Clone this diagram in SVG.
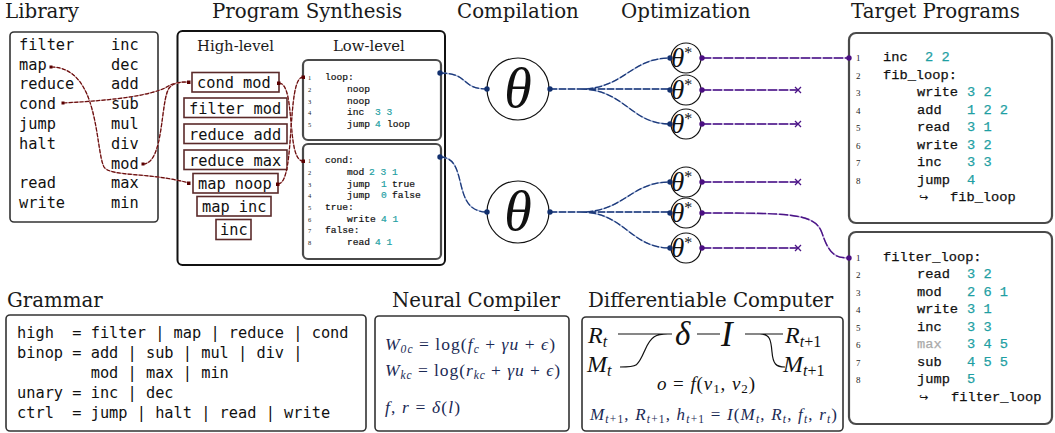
<svg xmlns="http://www.w3.org/2000/svg" width="1055" height="433" viewBox="0 0 1055 433">
<style>
.title{font-family:"DejaVu Serif",serif;font-size:19.8px;fill:#1a1a1a}
.sub{font-family:"DejaVu Serif",serif;font-size:14.8px;fill:#1a1a1a}
.mono{font-family:"DejaVu Sans Mono",monospace;font-size:15.3px;fill:#111}
.code{font-family:"Liberation Mono",monospace;font-size:9.6px;fill:#111;stroke:#111;stroke-width:0.2}
.tcode{font-family:"Liberation Mono",monospace;font-size:13.7px;fill:#111;stroke:#111;stroke-width:0.25}
.n{fill:#1f9fa3;stroke:#1f9fa3}
.g{fill:#aaa;stroke:#aaa}
.ln{font-family:"Liberation Serif",serif;font-size:6.5px;fill:#222}
.tln{font-family:"Liberation Serif",serif;font-size:9px;fill:#222}
.m{font-family:"Liberation Serif",serif;font-style:italic;fill:#111}
.r{font-style:normal}
.navy{fill:#1b2a55}
.panel{fill:#fff;stroke:#333;stroke-width:1.6}
.gbox{fill:#fff;stroke:#4a4a4a;stroke-width:2.2}
.hbox{fill:#fff;stroke:#5b2a2a;stroke-width:1.6}
.redU{fill:none;stroke:#c79a9a;stroke-width:1.2}
.red{fill:none;stroke:#6b0d0d;stroke-width:1.2;stroke-dasharray:4 1.5}
.blueU{fill:none;stroke:#9fb0d6;stroke-width:1.3}
.blue{fill:none;stroke:#1d3a7a;stroke-width:1.3;stroke-dasharray:7 2}
.purU{fill:none;stroke:#b9a3d9;stroke-width:1.4}
.pur{fill:none;stroke:#4b1486;stroke-width:1.4;stroke-dasharray:9 2}
.rdot{fill:#5a0000}
.bdot{fill:#12306e}
.pdot{fill:#4b0f82}
.circ{fill:#fff;stroke:#111;stroke-width:1.2}
.dline{fill:none;stroke:#111;stroke-width:1.2}
</style>

<!-- Titles -->
<g id="titles">
<text class="title" x="5" y="18">Library</text>
<text class="title" x="212" y="18">Program Synthesis</text>
<text class="title" x="457" y="18">Compilation</text>
<text class="title" x="621" y="18">Optimization</text>
<text class="title" x="851" y="18">Target Programs</text>
<text class="title" x="7" y="307">Grammar</text>
<text class="title" x="392" y="307">Neural Compiler</text>
<text class="title" x="588" y="307">Differentiable Computer</text>
</g>

<!-- Library -->
<g id="library">
<rect class="panel" x="10" y="32" width="148" height="190" rx="4"/>
<text class="mono" x="19" y="50">filter</text>
<text class="mono" x="19" y="70">map</text>
<text class="mono" x="19" y="89">reduce</text>
<text class="mono" x="19" y="109">cond</text>
<text class="mono" x="19" y="129">jump</text>
<text class="mono" x="19" y="149">halt</text>
<text class="mono" x="19" y="188">read</text>
<text class="mono" x="19" y="208">write</text>
<text class="mono" x="111" y="50">inc</text>
<text class="mono" x="111" y="70">dec</text>
<text class="mono" x="111" y="89">add</text>
<text class="mono" x="111" y="109">sub</text>
<text class="mono" x="111" y="129">mul</text>
<text class="mono" x="111" y="149">div</text>
<text class="mono" x="111" y="169">mod</text>
<text class="mono" x="111" y="188">max</text>
<text class="mono" x="111" y="208">min</text>
</g>

<!-- Program synthesis frame -->
<g id="program-synthesis">
<rect x="177.5" y="31" width="267.5" height="234" rx="5" fill="#fff" stroke="#111" stroke-width="2"/>
<text class="sub" x="197" y="51">High-level</text>
<text class="sub" x="333" y="51">Low-level</text>
</g>

<g id="hl-cond-mod"><rect class="hbox" x="192" y="72.5" width="87" height="19.5"/><text class="mono" x="197" y="88">cond mod</text></g>
<g id="hl-filter-mod"><rect class="hbox" x="184" y="98" width="103" height="19.5"/><text class="mono" x="189" y="113.5">filter mod</text></g>
<g id="hl-reduce-add"><rect class="hbox" x="184" y="124" width="103" height="19.5"/><text class="mono" x="189" y="139.5">reduce add</text></g>
<g id="hl-reduce-max"><rect class="hbox" x="184" y="150" width="103" height="19.5"/><text class="mono" x="189" y="165.5">reduce max</text></g>
<g id="hl-map-noop"><rect class="hbox" x="193" y="173.5" width="85" height="19.5"/><text class="mono" x="198" y="189">map noop</text></g>
<g id="hl-map-inc"><rect class="hbox" x="197" y="196.5" width="74" height="19.5"/><text class="mono" x="202" y="212">map inc</text></g>
<g id="hl-inc"><rect class="hbox" x="216" y="219.5" width="35" height="20"/><text class="mono" x="220" y="235">inc</text></g>

<g id="ll-loop">
<rect class="gbox" x="303" y="60" width="138" height="80" rx="5"/>
<text class="ln" x="308" y="80">1</text><text class="ln" x="308" y="92">2</text><text class="ln" x="308" y="103.5">3</text><text class="ln" x="308" y="115">4</text><text class="ln" x="308" y="127">5</text>
<text class="code" x="325" y="80">loop:</text>
<text class="code" x="347" y="92">noop</text>
<text class="code" x="347" y="103.5">noop</text>
<text class="code" x="347" y="115">inc<tspan class="n" x="375">3 3</tspan></text>
<text class="code" x="347" y="127">jump<tspan class="n" x="375">4</tspan><tspan x="387">loop</tspan></text>
</g>

<g id="ll-cond">
<rect class="gbox" x="303" y="144" width="138" height="115" rx="5"/>
<text class="ln" x="308" y="163">1</text><text class="ln" x="308" y="175">2</text><text class="ln" x="308" y="186.5">3</text><text class="ln" x="308" y="198">4</text><text class="ln" x="308" y="210">5</text><text class="ln" x="308" y="221.5">6</text><text class="ln" x="308" y="233">7</text><text class="ln" x="308" y="244.5">8</text>
<text class="code" x="325" y="163">cond:</text>
<text class="code" x="347" y="175">mod<tspan class="n" x="369">2 3 1</tspan></text>
<text class="code" x="347" y="186.5">jump<tspan class="n" x="381">1</tspan><tspan x="392">true</tspan></text>
<text class="code" x="347" y="198">jump<tspan class="n" x="381">0</tspan><tspan x="392">false</tspan></text>
<text class="code" x="325" y="210">true:</text>
<text class="code" x="347" y="221.5">write<tspan class="n" x="381">4 1</tspan></text>
<text class="code" x="325" y="233">false:</text>
<text class="code" x="347" y="244.5">read<tspan class="n" x="375">4 1</tspan></text>
</g>

<!-- Compilation -->
<g id="theta-1"><circle class="circ" cx="518" cy="89" r="31"/><text class="m" x="518" y="107" font-size="56" text-anchor="middle">θ</text></g>
<g id="theta-2"><circle class="circ" cx="518" cy="212" r="31"/><text class="m" x="518" y="230" font-size="56" text-anchor="middle">θ</text></g>

<!-- Optimization -->
<g id="opt-1"><circle class="circ" cx="686" cy="58" r="15"/><text class="m" x="671" y="67" font-size="27">θ<tspan class="r" dy="-9" font-size="16">*</tspan></text></g>
<g id="opt-2"><circle class="circ" cx="686" cy="90" r="15"/><text class="m" x="671" y="99" font-size="27">θ<tspan class="r" dy="-9" font-size="16">*</tspan></text></g>
<g id="opt-3"><circle class="circ" cx="686" cy="124" r="15"/><text class="m" x="671" y="133" font-size="27">θ<tspan class="r" dy="-9" font-size="16">*</tspan></text></g>
<g id="opt-4"><circle class="circ" cx="686" cy="182" r="15"/><text class="m" x="671" y="191" font-size="27">θ<tspan class="r" dy="-9" font-size="16">*</tspan></text></g>
<g id="opt-5"><circle class="circ" cx="686" cy="213" r="15"/><text class="m" x="671" y="222" font-size="27">θ<tspan class="r" dy="-9" font-size="16">*</tspan></text></g>
<g id="opt-6"><circle class="circ" cx="686" cy="248" r="15"/><text class="m" x="671" y="257" font-size="27">θ<tspan class="r" dy="-9" font-size="16">*</tspan></text></g>

<!-- Target programs -->
<g id="target-fib">
<rect class="gbox" x="849" y="33" width="203" height="190" rx="7"/>
<text class="tln" x="856" y="61">1</text><text class="tln" x="856" y="79">2</text><text class="tln" x="856" y="96">3</text><text class="tln" x="856" y="114">4</text><text class="tln" x="856" y="131">5</text><text class="tln" x="856" y="149">6</text><text class="tln" x="856" y="166">7</text><text class="tln" x="856" y="184">8</text>
<text class="tcode" x="883" y="61">inc<tspan class="n" x="925">2 2</tspan></text>
<text class="tcode" x="883" y="79">fib_loop:</text>
<text class="tcode" x="917" y="96">write<tspan class="n" x="967">3 2</tspan></text>
<text class="tcode" x="917" y="114">add<tspan class="n" x="967">1 2 2</tspan></text>
<text class="tcode" x="917" y="131">read<tspan class="n" x="967">3 1</tspan></text>
<text class="tcode" x="917" y="149">write<tspan class="n" x="967">3 2</tspan></text>
<text class="tcode" x="917" y="166">inc<tspan class="n" x="967">3 3</tspan></text>
<text class="tcode" x="917" y="184">jump<tspan class="n" x="967">4</tspan></text>
<text class="tcode" x="919" y="201"><tspan font-family="DejaVu Sans" font-size="11" stroke-width="0">↪</tspan><tspan x="950">fib_loop</tspan></text>
</g>

<g id="target-filter">
<rect class="gbox" x="849" y="232" width="203" height="192" rx="7"/>
<text class="tln" x="856" y="261">1</text><text class="tln" x="856" y="278">2</text><text class="tln" x="856" y="296">3</text><text class="tln" x="856" y="313">4</text><text class="tln" x="856" y="331">5</text><text class="tln" x="856" y="348">6</text><text class="tln" x="856" y="366">7</text><text class="tln" x="856" y="383">8</text>
<text class="tcode" x="883" y="261">filter_loop:</text>
<text class="tcode" x="917" y="278">read<tspan class="n" x="967">3 2</tspan></text>
<text class="tcode" x="917" y="296">mod<tspan class="n" x="967">2 6 1</tspan></text>
<text class="tcode" x="917" y="313">write<tspan class="n" x="967">3 1</tspan></text>
<text class="tcode" x="917" y="331">inc<tspan class="n" x="967">3 3</tspan></text>
<text class="tcode" x="917" y="348"><tspan class="g">max</tspan><tspan class="n" x="967">3 4 5</tspan></text>
<text class="tcode" x="917" y="366">sub<tspan class="n" x="967">4 5 5</tspan></text>
<text class="tcode" x="917" y="383">jump<tspan class="n" x="967">5</tspan></text>
<text class="tcode" x="919" y="401"><tspan font-family="DejaVu Sans" font-size="11" stroke-width="0">↪</tspan><tspan x="951">filter_loop</tspan></text>
</g>

<!-- Grammar -->
<g id="grammar">
<rect class="panel" x="6" y="315" width="360" height="116" rx="4"/>
<text class="mono" x="17" y="338" xml:space="preserve">high  = filter | map | reduce | cond</text>
<text class="mono" x="17" y="358" xml:space="preserve">binop = add | sub | mul | div |</text>
<text class="mono" x="17" y="378" xml:space="preserve">        mod | max | min</text>
<text class="mono" x="17" y="398" xml:space="preserve">unary = inc | dec</text>
<text class="mono" x="17" y="418" xml:space="preserve">ctrl  = jump | halt | read | write</text>
</g>

<!-- Neural compiler -->
<g id="neural-compiler">
<rect class="panel" x="375" y="316" width="194" height="115" rx="4"/>
<text class="m navy" x="385" y="350" font-size="17.5" textLength="170" lengthAdjust="spacing">W<tspan dy="3" font-size="11.5">0c</tspan><tspan class="r" dy="-3"> = log(</tspan>f<tspan dy="3" font-size="11.5">c</tspan><tspan class="r" dy="-3"> + </tspan>γu<tspan class="r"> + </tspan>ϵ<tspan class="r">)</tspan></text>
<text class="m navy" x="385" y="376" font-size="17.5" textLength="175" lengthAdjust="spacing">W<tspan dy="3" font-size="11.5">kc</tspan><tspan class="r" dy="-3"> = log(</tspan>r<tspan dy="3" font-size="11.5">kc</tspan><tspan class="r" dy="-3"> + </tspan>γu<tspan class="r"> + </tspan>ϵ<tspan class="r">)</tspan></text>
<text class="m navy" x="385" y="413" font-size="17.5" textLength="75" lengthAdjust="spacing">f<tspan class="r">, </tspan>r<tspan class="r"> = </tspan>δ<tspan class="r">(</tspan>l<tspan class="r">)</tspan></text>
</g>

<!-- Differentiable computer -->
<g id="differentiable-computer">
<rect class="panel" x="582" y="317" width="261" height="114" rx="4"/>
<path class="dline" d="M618,334 H672 M620,367 C638,367 638,366 645,350 C651,336 656,334 668,334 M697,334 H720 M745,334 H783 M760,334 C770,334 771,340 772,352 C773,364 776,367 785,367"/>
<text class="m" x="588" y="343" font-size="24">R<tspan dy="4" font-size="16">t</tspan></text>
<text class="m" x="587" y="372" font-size="24">M<tspan dy="4" font-size="16">t</tspan></text>
<text class="m" x="675" y="345" font-size="33">δ</text>
<text class="m" x="721" y="346" font-size="35">I</text>
<text class="m" x="785" y="343" font-size="24">R<tspan dy="4" font-size="16">t<tspan class="r">+1</tspan></tspan></text>
<text class="m" x="783" y="372" font-size="24">M<tspan dy="4" font-size="16">t<tspan class="r">+1</tspan></tspan></text>
<text class="m" x="657" y="390" font-size="19" textLength="98" lengthAdjust="spacing">o<tspan class="r"> = </tspan>f<tspan class="r">(</tspan>v<tspan dy="3" font-size="13" class="r">1</tspan><tspan class="r" dy="-3">, </tspan>v<tspan dy="3" font-size="13" class="r">2</tspan><tspan class="r" dy="-3">)</tspan></text>
<text class="m navy" x="590" y="420" font-size="17" textLength="247" lengthAdjust="spacing">M<tspan dy="3" font-size="11.5">t<tspan class="r">+1</tspan></tspan><tspan class="r" dy="-3">, </tspan>R<tspan dy="3" font-size="11.5">t<tspan class="r">+1</tspan></tspan><tspan class="r" dy="-3">, </tspan>h<tspan dy="3" font-size="11.5">t<tspan class="r">+1</tspan></tspan><tspan class="r" dy="-3"> = </tspan>I<tspan class="r">(</tspan>M<tspan dy="3" font-size="11.5">t</tspan><tspan class="r" dy="-3">, </tspan>R<tspan dy="3" font-size="11.5">t</tspan><tspan class="r" dy="-3">, </tspan>f<tspan dy="3" font-size="11.5">t</tspan><tspan class="r" dy="-3">, </tspan>r<tspan dy="3" font-size="11.5">t</tspan><tspan class="r" dy="-3">)</tspan></text>
</g>

<!-- Connectors -->
<g id="connectors">
<path class="redU" d="M51,67 C100,67 95,150 104,167 C110,177 150,172 189,183"/>
<path class="red" d="M51,67 C100,67 95,150 104,167 C110,177 150,172 189,183"/>
<path class="redU" d="M63,103 C120,100 150,95 165,88 C172,83 180,82 189,82"/>
<path class="red" d="M63,103 C120,100 150,95 165,88 C172,83 180,82 189,82"/>
<path class="redU" d="M143,164 C165,164 160,96 170,87 C175,82 181,82 189,82"/>
<path class="red" d="M143,164 C165,164 160,96 170,87 C175,82 181,82 189,82"/>
<path class="redU" d="M279,83 C296,83 286,161 303,161"/>
<path class="red" d="M279,83 C296,83 286,161 303,161"/>
<path class="redU" d="M278,184 C296,184 286,77 303,77"/>
<path class="red" d="M278,184 C296,184 286,77 303,77"/>
<rect class="rdot" x="49.5" y="65.5" width="3" height="3"/>
<rect class="rdot" x="61.5" y="101.5" width="3" height="3"/>
<rect class="rdot" x="141.5" y="162.5" width="3" height="3"/>
<rect class="rdot" x="187" y="80.5" width="3.5" height="3.5"/>
<rect class="rdot" x="187" y="181.5" width="3.5" height="3.5"/>
<rect class="rdot" x="277" y="81.5" width="3.5" height="3.5"/>
<rect class="rdot" x="276" y="182.5" width="3.5" height="3.5"/>
<rect class="rdot" x="301.5" y="75.5" width="3.5" height="3.5"/>
<rect class="rdot" x="301.5" y="159.5" width="3.5" height="3.5"/>

<path class="blueU" d="M440,73 C470,73 460,89 487,89"/>
<path class="blue" d="M440,73 C470,73 460,89 487,89"/>
<path class="blueU" d="M440,157 C470,157 450,212 487,212"/>
<path class="blue" d="M440,157 C470,157 450,212 487,212"/>
<path class="blueU" d="M550,89 H580 C625,89 630,58 670,58 M580,89 H670 M580,89 C625,89 630,124 670,124"/>
<path class="blue" d="M550,89 H580 C625,89 630,58 670,58 M580,89 H670 M580,89 C625,89 630,124 670,124"/>
<path class="blueU" d="M550,212 H580 C625,212 630,182 670,182 M580,212 H670 M580,212 C625,212 630,248 670,248"/>
<path class="blue" d="M550,212 H580 C625,212 630,182 670,182 M580,212 H670 M580,212 C625,212 630,248 670,248"/>
<circle class="bdot" cx="440" cy="73" r="2.7"/>
<circle class="bdot" cx="440" cy="157" r="2.7"/>
<circle class="bdot" cx="487" cy="89" r="2.7"/>
<circle class="bdot" cx="550" cy="89" r="2.7"/>
<circle class="bdot" cx="487" cy="212" r="2.7"/>
<circle class="bdot" cx="550" cy="212" r="2.7"/>
<circle class="bdot" cx="670" cy="58" r="2.7"/>
<circle class="bdot" cx="670" cy="90" r="2.7"/>
<circle class="bdot" cx="670" cy="124" r="2.7"/>
<circle class="bdot" cx="670" cy="182" r="2.7"/>
<circle class="bdot" cx="670" cy="213" r="2.7"/>
<circle class="bdot" cx="670" cy="248" r="2.7"/>

<path class="purU" d="M702,58 H849 M702,90 H798 M702,124 H798 M702,182 H798 M702,248 H798 M702,213 C790,213 815,213 822,233 C829,254 835,258 849,258"/>
<path class="pur" d="M702,58 H849 M702,90 H798 M702,124 H798 M702,182 H798 M702,248 H798 M702,213 C790,213 815,213 822,233 C829,254 835,258 849,258"/>
<path fill="none" stroke="#4b1486" stroke-width="1.3" d="M795,87 l6,6 m0,-6 l-6,6 M795,121 l6,6 m0,-6 l-6,6 M795,179 l6,6 m0,-6 l-6,6 M795,245 l6,6 m0,-6 l-6,6"/>
<circle class="pdot" cx="702" cy="58" r="2.7"/>
<circle class="pdot" cx="702" cy="90" r="2.7"/>
<circle class="pdot" cx="702" cy="124" r="2.7"/>
<circle class="pdot" cx="702" cy="182" r="2.7"/>
<circle class="pdot" cx="702" cy="213" r="2.7"/>
<circle class="pdot" cx="702" cy="248" r="2.7"/>
<circle class="pdot" cx="849" cy="58" r="2.7"/>
<circle class="pdot" cx="849" cy="258" r="2.7"/>
</g>
</svg>
